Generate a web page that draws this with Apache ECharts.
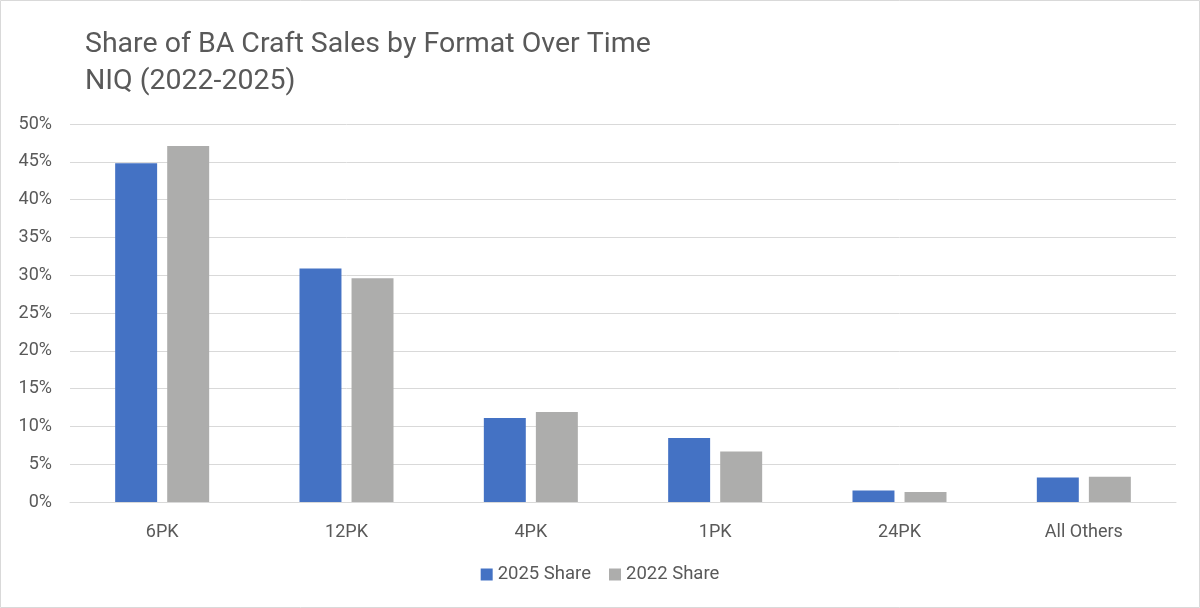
<!DOCTYPE html>
<html><head><meta charset="utf-8">
<script src="https://cdn.jsdelivr.net/npm/echarts@6/dist/echarts.min.js"></script>
<style>html,body{margin:0;padding:0;background:#fff}#c{width:1200px;height:608px}</style>
</head><body><div id="c"></div>
<script>
const categories = ['6PK','12PK','4PK','1PK','24PK','All Others'];
const share2025 = [44.8, 30.9, 11.1, 8.45, 1.52, 3.25];
const share2022 = [47.1, 29.6, 11.9, 6.67, 1.33, 3.33];
const seriesNames = ['2025 Share','2022 Share'];
const titleLines = ['Share of BA Craft Sales by Format Over Time','NIQ (2022-2025)'];

const FONT = 'Roboto';
const chart = echarts.init(document.getElementById('c'));
chart.setOption({
  animation:false,
  textStyle:{fontFamily:FONT},
  graphic:[{type:'rect',shape:{x:0.5,y:0.5,width:1199,height:607},style:{fill:'none',stroke:'#d9d9d9',lineWidth:1}}],
  title:{text:titleLines.join('\n'),left:80,top:21,textStyle:{fontFamily:FONT,fontSize:28.5,fontWeight:'normal',color:'#595959',lineHeight:37}},
  legend:{data:seriesNames,bottom:19,left:'center',itemWidth:12,itemHeight:12,itemGap:18,icon:'rect',
    textStyle:{fontFamily:FONT,fontSize:18.5,color:'#595959'}},
  grid:{left:70,right:24,top:124,bottom:106},
  xAxis:{type:'category',data:categories,axisTick:{show:false},
    axisLine:{lineStyle:{color:'#d9d9d9',width:1}},
    axisLabel:{fontFamily:FONT,fontSize:18,color:'#595959',margin:21}},
  yAxis:{type:'value',min:0,max:50,interval:5,
    axisLabel:{formatter:'{value}%',fontFamily:FONT,fontSize:18,color:'#595959',margin:18},
    splitLine:{lineStyle:{color:'#d9d9d9',width:1}},axisLine:{show:false},axisTick:{show:false}},
  series:[
    {name:seriesNames[0],type:'bar',data:share2025,itemStyle:{color:'#4472C4'},barGap:'24%',barCategoryGap:'49%'},
    {name:seriesNames[1],type:'bar',data:share2022,itemStyle:{color:'#ADADAC'},barGap:'24%',barCategoryGap:'49%'}
  ]
});
</script></body></html>
